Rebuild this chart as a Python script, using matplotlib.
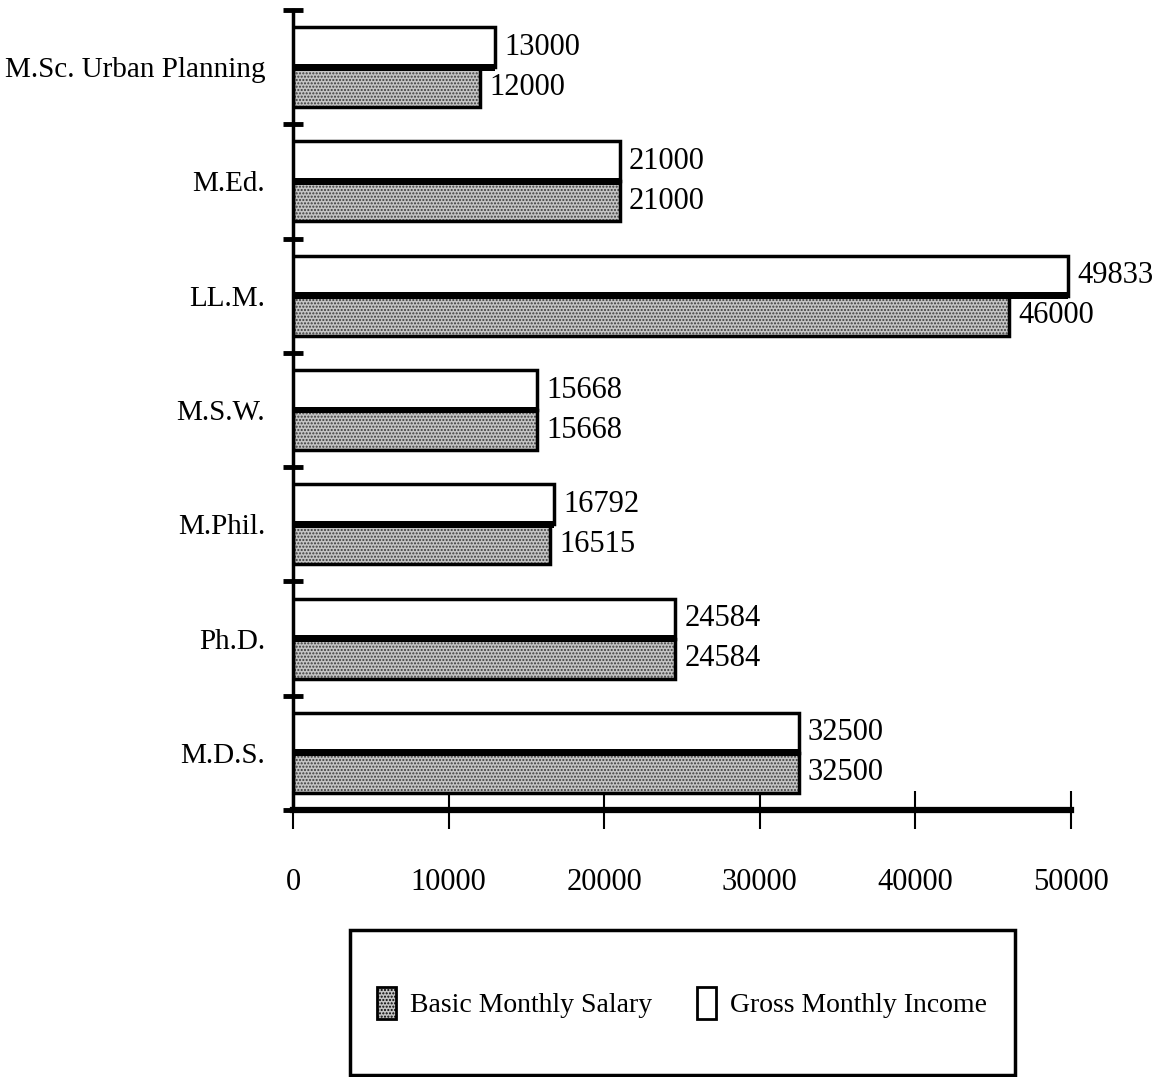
import numpy as np
import matplotlib.pyplot as plt
from matplotlib.patches import Rectangle, Patch

plt.rcParams['font.family'] = ['Liberation Serif', 'DejaVu Serif']

degrees = ['M.Sc. Urban Planning', 'M.Ed.', 'LL.M.', 'M.S.W.', 'M.Phil.', 'Ph.D.', 'M.D.S.']
basic = [12000, 21000, 46000, 15668, 16515, 24584, 32500]
gross = [13000, 21000, 49833, 15668, 16792, 24584, 32500]
xticks = [0, 10000, 20000, 30000, 40000, 50000]

fig = plt.figure(figsize=(11.52, 10.77), dpi=100)
ax = fig.add_axes([0.2543, 0.2479, 0.6753, 0.7428])

y = np.arange(len(degrees))
h = 0.35
dots = '#c4c4c4'

# gross on top, basic below
ax.barh(y - h / 2, gross, height=h, facecolor='white', edgecolor='black', linewidth=2.5, zorder=3)
ax.barh(y + h / 2, basic, height=h, facecolor=dots, edgecolor='#3a3a3a', hatch='.....',
        linewidth=0, zorder=2)
ax.barh(y + h / 2, basic, height=h, facecolor='none', edgecolor='black', linewidth=2.5, zorder=3)
# heavy dividing line between the two bars
ax.barh(y, gross, height=0.06, color='black', zorder=4)

for i in range(len(degrees)):
    ax.text(gross[i] + 600, y[i] - h / 2, str(gross[i]), va='center', ha='left', fontsize=22)
    ax.text(basic[i] + 600, y[i] + h / 2, str(basic[i]), va='center', ha='left', fontsize=22)

ax.set_xlim(0, 50000)
ax.set_ylim(len(degrees) - 0.5, -0.5)

for s in ['top', 'right']:
    ax.spines[s].set_visible(False)
ax.spines['left'].set_linewidth(2.5)
ax.spines['bottom'].set_linewidth(4.5)

ax.set_xticks(xticks)
ax.set_xticklabels([str(t) for t in xticks], fontsize=22)
ax.tick_params(axis='x', direction='inout', length=28, width=1.5, pad=28)

ax.set_yticks(np.arange(len(degrees) + 1) - 0.5)
ax.set_yticklabels([])
ax.tick_params(axis='y', which='major', direction='inout', length=14, width=3.5)
ax.set_yticks(y, minor=True)
ax.set_yticklabels(degrees, minor=True, fontsize=21)
ax.tick_params(axis='y', which='minor', length=0, pad=20)

# legend box
fig.patches.append(Rectangle((350 / 1152, 1 - 1075 / 1077), 665 / 1152, 145 / 1077,
                             transform=fig.transFigure, facecolor='white', edgecolor='black',
                             linewidth=2.5))
handles = [Patch(facecolor=dots, edgecolor='black', hatch='.....', linewidth=2),
           Patch(facecolor='white', edgecolor='black', linewidth=2)]
fig.legend(handles, ['Basic Monthly Salary', 'Gross Monthly Income'], loc='center',
           bbox_to_anchor=((350 + 332) / 1152, 1 - 1003 / 1077), ncol=2, frameon=False,
           fontsize=20, handlelength=0.7, handleheight=1.4, columnspacing=1.6, handletextpad=0.5)

plt.savefig('out.png', dpi=100)
